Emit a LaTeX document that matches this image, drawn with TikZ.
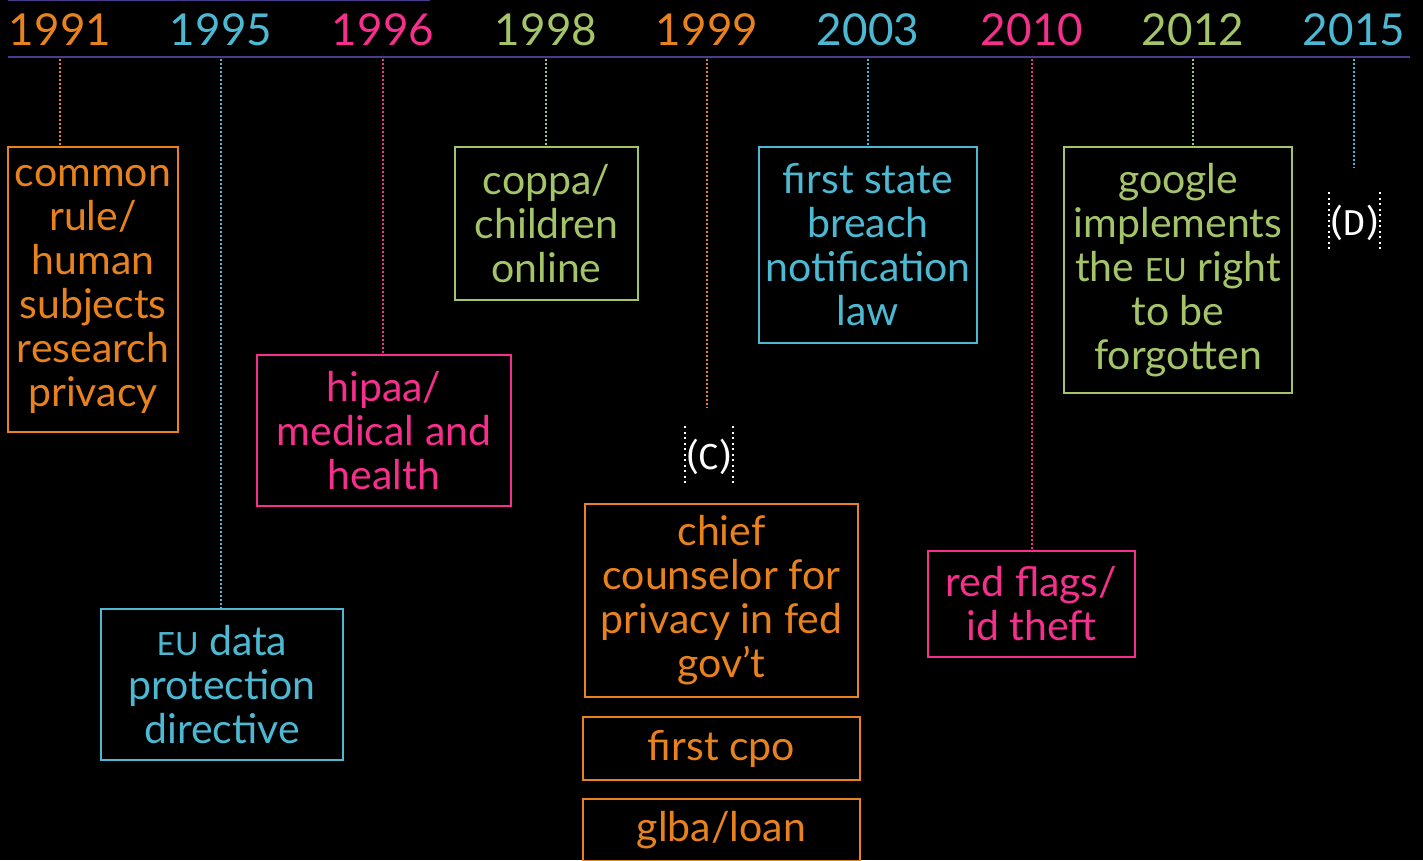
\documentclass[tikz,border=0pt]{standalone}
\usepackage{fontspec}
\setmainfont{Lato}
\newfontfamily\lblfnt{Fira Sans}
\definecolor{corange}{RGB}{232,130,30}
\definecolor{cblue}{RGB}{77,184,210}
\definecolor{cpink}{RGB}{245,47,140}
\definecolor{cgreen}{RGB}{164,196,106}
\definecolor{cline}{RGB}{74,60,140}
\newcommand{\smEU}{{\fontsize{32}{44}\selectfont EU}}
\begin{document}
\begin{tikzpicture}[x=1pt,y=-1pt,
  yr/.style={font=\fontsize{44}{50}\selectfont, anchor=base, inner sep=0pt},
  ev/.style={draw, line width=1.5pt, align=center, inner sep=0pt,
    font=\fontsize{41}{44}\selectfont},
  tick/.style={line width=2pt, dash pattern=on 2pt off 2pt},
  lbl/.style={text=white, font=\lblfnt\fontsize{36}{40}\selectfont, inner sep=0pt,
    minimum height=60pt},
  side/.style={draw=white, line width=2pt, dash pattern=on 2pt off 3.5pt}]
\useasboundingbox[fill=black] (0,0) rectangle (1423,860);
% timeline lines
\coordinate (la) at (8,0.6);
\coordinate (lb) at (430,0.6);
\draw[cline, line width=1.2pt] (la) -- (lb);
\coordinate (ma) at (8,57);
\coordinate (mb) at (1410,57);
\draw[cline, line width=1.5pt] (ma) -- (mb);
% years
\node[yr, text=corange] (y91) at (60,45) {1991};
\node[yr, text=cblue]   (y95) at (221,45) {1995};
\node[yr, text=cpink]   (y96) at (383,45) {1996};
\node[yr, text=cgreen]  (y98) at (546,45) {1998};
\node[yr, text=corange] (y99) at (707,45) {1999};
\node[yr, text=cblue]   (y03) at (868,45) {2003};
\node[yr, text=cpink]   (y10) at (1032,45) {2010};
\node[yr, text=cgreen]  (y12) at (1193,45) {2012};
\node[yr, text=cblue]   (y15) at (1354,45) {2015};
% tick start points
\coordinate (t91) at (60,58.5);
\coordinate (t95) at (221,58.5);
\coordinate (t96) at (383,58.5);
\coordinate (t98) at (546,58.5);
\coordinate (t99) at (707,58.5);
\coordinate (t03) at (868,58.5);
\coordinate (t10) at (1032,58.5);
\coordinate (t12) at (1193,58.5);
\coordinate (t15) at (1354,58.5);
\coordinate (e99) at (707,408);
\coordinate (e15) at (1354,168);
% event boxes
\node[ev, draw=corange, text=corange, minimum width=170pt, minimum height=285pt] (b91) at (93,289.5)
  {common\\rule/\\human\\subjects\\research\\privacy};
\node[ev, draw=cblue, text=cblue, minimum width=242pt, minimum height=151pt] (b95) at (222,684.5)
  {\smEU{} data\\protection\\directive};
\node[ev, draw=cpink, text=cpink, minimum width=254pt, minimum height=151pt] (b96) at (384,430.5)
  {hipaa/\\medical and\\health};
\node[ev, draw=cgreen, text=cgreen, minimum width=183pt, minimum height=153pt] (b98) at (546.5,223.5)
  {coppa/\\children\\online};
\node[ev, draw=corange, text=corange, minimum width=273pt, minimum height=193pt] (b99a) at (721.5,600.5)
  {chief\\counselor for\\privacy in fed\\gov’t};
\node[ev, draw=corange, text=corange, minimum width=277pt, minimum height=63pt] (b99b) at (721.5,748.5)
  {first cpo};
\node[ev, draw=corange, text=corange, minimum width=277pt, minimum height=62pt] (b99c) at (721.5,830)
  {glba/loan};
\node[ev, draw=cblue, text=cblue, minimum width=218pt, minimum height=196pt] (b03) at (868,245)
  {first state\\breach\\notification\\law};
\node[ev, draw=cpink, text=cpink, minimum width=207pt, minimum height=106pt] (b10) at (1031.5,604)
  {red flags/\\id theft};
\node[ev, draw=cgreen, text=cgreen, minimum width=228pt, minimum height=246pt] (b12) at (1178,270)
  {google\\implements\\the \smEU{} right\\to be\\forgotten};
% placeholder labels
\node[lbl, minimum width=48pt] (lc) at (709,456.5) {(C)};
\draw[side] (lc.north west) -- (lc.south west);
\draw[side] (lc.north east) -- (lc.south east);
\node[lbl, minimum width=51pt] (ld) at (1354.5,222.5) {(D)};
\draw[side] (ld.north west) -- (ld.south west);
\draw[side] (ld.north east) -- (ld.south east);
% connectors
\draw[tick, corange] (t91) -- (t91 |- b91.north);
\draw[tick, cblue]   (t95) -- (t95 |- b95.north);
\draw[tick, cpink]   (t96) -- (t96 |- b96.north);
\draw[tick, cgreen]  (t98) -- (t98 |- b98.north);
\draw[tick, corange] (t99) -- (e99);
\draw[tick, cblue]   (t03) -- (t03 |- b03.north);
\draw[tick, cpink]   (t10) -- (t10 |- b10.north);
\draw[tick, cgreen]  (t12) -- (t12 |- b12.north);
\draw[tick, cblue]   (t15) -- (e15);
\end{tikzpicture}
\end{document}
